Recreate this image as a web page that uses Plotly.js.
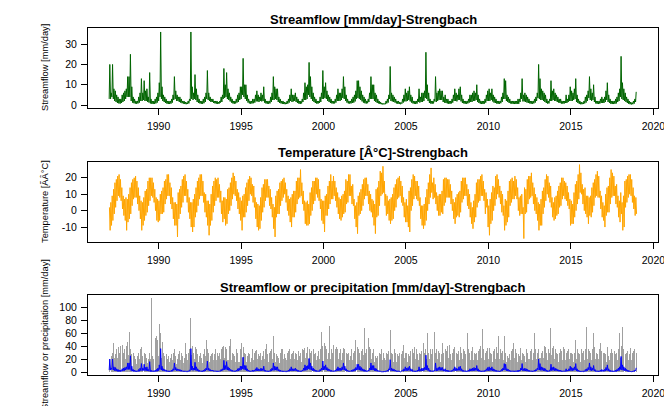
<!DOCTYPE html>
<html><head><meta charset="utf-8">
<script src="https://cdn.plot.ly/plotly-3.0.1.min.js"></script>
<style>html,body{margin:0;padding:0;background:#fff}#chart{width:664px;height:406px}</style>
</head><body><div id="chart"></div>
<script>
// Monthly series, Jan 1987 .. Dec 2018 (one row per year, Jan..Dec)
const startYear = 1987;
const nYears = 32;
const xTicks = [1990, 1995, 2000, 2005, 2010, 2015, 2020];

// Streamflow [mm/day]: monthly peak values
const flowPeak = [
20,6,20,8,7,5,4,3,3,5,6,7,
8,14,14,25,9,4,3,2,2,4,6,13,
6,12,7,8,4,16,3,2,2,3,4,6,
11,36,9,5,4,3,2,2,2,3,5,14,
7,5,4,4,3,2,2,1.5,1.2,2,3,36,
9,6,15,8,5,3,2,2,3,4,6,17,
6,4,3,3,2,2,2,1.5,2,4,5,18,
10,16,8,6,4,3,2,2,3,5,6,9,
9,23,10,10,5,3,2,2,3,3,5,7,
5,4,6,5,9,3,2,2,2,4,6,14,
9,8,8,4,3,2,2,1.5,1.2,2,3,5,
8,5,5,6,4,3,2,2,3,6,11,9,
10,21,14,9,6,4,3,2,2,4,6,17,
9,11,7,5,4,3,2,2,3,5,8,6,
6,8,14,9,5,3,2,2,3,4,5,7,
12,12,9,7,5,4,3,2,3,6,14,10,
10,6,5,3,2,1.5,1,0.8,0.8,2,3,5,
19,6,5,4,3,2,2,1.5,1.2,3,5,8,
6,7,9,5,4,2,2,2,3,8,4,6,
6,7,26,10,6,3,2,2,3,14,6,7,
8,7,7,4,5,3,3,2,2,3,5,8,
6,5,8,9,5,3,2,2,2,3,5,5,
6,7,6,10,5,3,2,2,2,3,5,7,
8,6,8,5,4,3,2,2,2,4,6,13,
12,5,4,3,2,2,2,2,2,3,3,6,
13,5,6,5,4,3,2,2,2,3,4,6,
20,13,8,7,6,5,3,2,3,12,7,8,
6,5,4,3,3,2,2,2,5,3,5,9,
7,6,8,13,5,3,2,1.5,1.2,2,4,5,
7,14,8,6,10,4,2,2,2,3,4,3,
4,7,11,5,3,2,2,2,3,4,6,8,
24,11,8,6,4,3,2,1.5,1.2,2,3,6.5
];

// Streamflow [mm/day]: monthly low-flow values
const flowBase = [
3,3,4,3,2,1.5,1,0.8,0.7,1,1.5,2,
3,4,4,4,2,1.2,0.9,0.7,0.6,0.8,1.2,2,
2,2.5,2,2,1.5,1.2,0.8,0.6,0.5,0.6,0.8,1.2,
2,4,3,2,1.5,1,0.7,0.5,0.5,0.7,1.2,2.5,
3,2,2,1.5,1.2,0.9,0.7,0.5,0.4,0.5,0.8,2,
3,2.5,3,2.5,1.5,1,0.8,0.6,0.6,0.9,1.5,3,
2.5,2,1.5,1.5,1,0.8,0.7,0.5,0.7,1.2,1.5,3,
3.5,4,3,2.5,1.8,1.2,0.8,0.6,0.8,1.2,1.5,2.5,
3,5,4,3,2,1.2,0.8,0.6,0.8,0.9,1.2,1.8,
1.8,1.5,2,1.8,2,1.2,0.8,0.6,0.6,0.8,1.5,2.5,
2.5,3,2.5,1.5,1,0.8,0.6,0.5,0.4,0.5,0.7,1.2,
2,1.5,1.8,2,1.5,1,0.7,0.5,0.8,1.5,2.5,2.5,
3,5,4,3,2,1.5,1,0.7,0.7,1,1.5,3,
3,3.5,3,2,1.5,1,0.8,0.7,0.8,1.2,2,2,
2,2.5,3.5,3,2,1.2,0.8,0.7,0.8,1,1.2,1.8,
3,3.5,3,2.5,1.8,1.2,0.9,0.7,0.9,1.5,3,3,
3,2,1.5,1,0.8,0.5,0.4,0.3,0.3,0.5,0.8,1.2,
3,2,1.8,1.5,1.2,0.8,0.6,0.5,0.4,0.7,1.2,1.8,
1.8,2,2.5,1.8,1.2,0.8,0.6,0.5,0.7,1.5,1.2,1.5,
1.5,2,3.5,3,2,1,0.7,0.6,0.8,1.8,1.5,2,
2.5,2.5,2.5,1.5,1.2,1,0.8,0.6,0.6,0.8,1.2,2,
2,1.8,2.5,2.5,1.8,1,0.8,0.6,0.6,0.8,1.2,1.5,
1.5,2,2,2.5,1.5,1,0.7,0.5,0.5,0.7,1.2,2,
2,2,2.5,1.8,1.2,1,0.7,0.6,0.6,0.9,1.5,3,
3,2,1.5,1,0.8,0.6,0.6,0.5,0.5,0.6,0.6,1.5,
3,1.8,1.8,1.5,1.2,1,0.8,0.6,0.6,0.8,1.2,2,
3.5,3,2.5,2.5,2,1.5,1,0.7,0.8,2,2,2.5,
2,2,1.5,1.2,1,0.7,0.7,0.7,1,1,1.5,2,
2,2,2.5,3,1.5,1,0.6,0.4,0.4,0.5,0.8,1.2,
2,3.5,2.5,2,2.5,1.5,0.8,0.6,0.5,0.7,1,1,
1,1.5,2.5,1.5,1,0.6,0.5,0.5,0.6,0.8,1.5,2,
4,3,2.5,2,1.5,1,0.6,0.4,0.3,0.4,0.7,1.5
];

// Temperature [°C]: monthly upper envelope
const tempHigh = [
2,5,9,13,17,19,21,22,19,14,9,7,
8,7,10,14,17,19,20,21,18,14,9,6,
5,8,12,13,18,20,20,20,17,13,8,7,
6,10,12,14,18,19,22,22,17,14,8,5,
5,4,11,13,15,19,21,22,18,13,8,5,
5,7,10,14,18,20,22,22,18,11,10,6,
6,4,10,15,18,20,19,20,16,12,6,8,
8,7,13,14,17,20,23,21,18,13,11,8,
6,9,10,14,17,19,21,20,16,15,8,5,
4,3,8,14,16,19,19,19,15,13,8,4,
2,9,12,13,17,18,19,20,17,13,9,7,
8,10,12,12,18,20,20,25,17,12,6,5,
6,4,11,14,18,18,20,20,19,13,7,6,
6,9,10,15,18,22,18,21,18,14,11,8,
7,9,10,12,19,18,22,22,15,16,7,3,
5,9,11,13,16,19,20,20,16,12,10,7,
6,4,13,14,18,24,23,27,18,10,9,6,
7,8,10,14,16,19,20,21,18,15,8,5,
7,3,12,14,19,22,21,18,18,15,8,3,
3,4,8,13,17,22,26,17,20,16,11,9,
10,10,12,19,20,20,19,19,16,12,7,5,
8,10,11,12,18,20,20,20,16,13,10,5,
2,6,10,17,19,19,21,22,18,13,11,7,
3,7,11,15,14,21,22,19,15,12,10,3,
7,6,12,18,19,20,18,21,19,14,8,9,
10,2,14,13,19,21,21,23,17,14,10,8,
5,4,7,12,14,19,22,21,17,15,8,5,
8,9,12,15,17,20,20,18,17,15,11,7,
6,4,11,16,18,22,28,23,16,13,14,9,
9,8,9,14,17,19,22,24,21,12,9,5,
3,10,14,15,20,25,23,21,15,16,9,6,
11,5,9,18,19,21,22,22,19,14,9,8
];

// Temperature [°C]: monthly lower envelope
const tempLow = [
-12,-9,-6,-2,2,6,9,8,6,1,-3,-6,
-12,-7,-5,-2,3,7,8,8,4,0,-5,-12,
-9,-6,-3,-1,3,6,9,8,5,0,-6,-7,
-6,-2,-2,-1,4,7,9,9,4,1,-5,-9,
-9,-16,-5,-2,2,5,9,9,5,-1,-5,-10,
-13,-10,-4,-1,3,7,9,9,5,-1,-4,-9,
-15,-9,-6,-1,3,6,8,8,5,-2,-7,-5,
-9,-8,-2,0,3,7,10,9,6,1,-2,-6,
-12,-4,-4,-1,3,6,10,9,5,2,-5,-10,
-12,-11,-6,-1,2,6,8,8,3,1,-4,-11,
-16,-4,-2,-2,3,6,8,10,5,0,-3,-7,
-10,-4,-4,-1,4,7,8,9,4,0,-8,-9,
-9,-8,-3,0,4,6,10,8,6,1,-6,-8,
-13,-3,-3,1,4,7,7,9,6,2,-2,-5,
-6,-4,-2,-1,4,5,9,9,4,3,-5,-10,
-14,-3,-2,0,3,7,9,9,4,0,-1,-4,
-9,-14,-4,-3,3,9,10,11,3,-3,-2,-6,
-8,-6,-5,0,2,7,8,9,5,3,-4,-7,
-7,-10,-13,0,3,7,9,7,6,3,-5,-9,
-11,-9,-6,0,4,8,11,7,8,4,0,-3,
-3,-1,-2,3,5,8,8,8,4,0,-5,-8,
-4,-3,-4,-1,5,7,9,9,3,1,-4,-8,
-11,-7,-4,2,5,6,9,9,6,-2,2,-10,
-15,-8,-6,0,3,7,10,8,4,-1,-3,-12,
-9,-7,-4,3,5,7,7,9,7,0,-3,-2,
-2,-17,-2,-1,4,7,8,9,4,0,-2,-6,
-12,-9,-9,-2,2,6,10,8,5,2,-4,-6,
-5,-3,-2,2,3,7,9,7,6,3,1,-9,
-8,-8,-4,0,4,7,11,10,4,0,-2,-4,
-8,-3,-4,-1,3,8,9,8,8,1,-4,-6,
-10,-3,-1,-1,4,8,9,9,4,2,-4,-7,
-2,-12,-10,2,5,8,10,9,5,1,-3,-2
];

// Precipitation [mm/day]: monthly maximum
const precipMax = [
20,25,30,44,28,35,38,30,40,42,30,35,
40,46,62,35,28,30,25,20,25,30,35,39,
25,30,28,22,20,30,114,25,20,52,55,50,
74,60,46,30,25,28,20,25,22,28,30,35,
25,20,28,33,30,25,22,44,28,30,35,83,
40,30,38,35,28,25,30,22,28,35,49,35,
30,25,28,30,28,35,30,25,30,35,38,40,
38,35,30,40,51,30,28,25,35,30,28,35,
45,38,30,28,25,30,28,22,35,30,32,34,
28,25,30,25,32,35,43,28,30,32,35,56,
30,28,25,22,30,35,35,28,22,30,32,35,
28,30,33,30,28,32,25,30,35,34,37,30,
39,35,30,32,35,28,30,25,32,35,61,40,
45,40,35,30,71,35,30,42,35,38,35,30,
35,30,37,35,30,28,30,25,35,30,32,50,
38,35,30,32,35,68,30,35,52,38,35,30,
35,25,22,25,30,28,35,30,22,30,28,32,
64,30,28,35,30,28,25,30,28,32,42,30,
30,28,25,32,35,30,39,35,28,30,28,32,
44,30,35,60,30,35,28,35,61,30,35,32,
30,28,44,30,35,32,40,42,28,30,35,38,
30,28,32,39,30,35,32,28,60,35,30,32,
39,30,28,30,32,35,40,67,35,30,32,37,
37,30,28,32,35,38,30,56,35,30,32,55,
30,25,22,28,32,35,44,35,30,28,25,37,
30,28,25,35,30,38,32,35,30,60,35,30,
35,49,30,32,40,38,30,35,30,68,37,40,
35,30,28,30,35,32,39,35,30,32,35,30,
30,28,30,50,35,30,28,35,30,32,35,70,
35,32,30,35,60,38,30,28,35,44,32,30,
30,28,39,25,30,35,30,32,28,30,35,60,
40,70,35,28,30,32,28,37,30,32,35,30
];

// Precipitation [mm/day]: typical (dense) monthly level
const precipTyp = [
15,18,20,22,18,20,22,16,20,24,18,20,
22,24,26,18,16,18,15,12,16,18,20,22,
16,18,15,14,12,18,20,15,12,24,26,24,
28,26,22,16,14,16,12,15,14,18,18,20,
15,12,16,18,16,15,14,20,16,18,20,26,
22,18,20,18,16,15,18,14,16,20,24,20,
18,15,16,18,16,20,18,15,18,20,22,22,
22,20,18,22,24,18,16,15,20,18,16,20,
24,22,18,16,15,18,16,14,20,18,18,20,
16,15,18,15,18,20,22,16,18,18,20,24,
18,16,15,14,18,20,20,16,14,18,18,20,
16,18,20,18,16,18,15,16,20,20,22,18,
22,20,18,18,20,16,18,15,18,20,26,22,
24,22,20,18,26,20,18,22,20,22,20,18,
20,18,22,20,18,16,18,15,20,18,18,24,
22,20,18,18,20,26,18,20,24,22,20,18,
20,15,14,15,18,16,18,16,14,18,16,18,
26,18,16,20,18,16,15,18,16,18,22,18,
18,16,15,18,20,18,20,20,16,18,16,18,
22,18,20,24,18,20,16,20,24,18,20,18,
18,16,22,16,20,18,22,22,16,18,20,20,
18,16,18,20,18,20,18,16,24,20,18,18,
20,18,16,18,18,20,22,26,20,18,18,20,
20,18,16,18,20,20,18,24,20,18,18,24,
18,15,14,16,18,20,22,20,18,16,15,20,
18,16,15,20,18,20,18,20,18,24,20,18,
20,22,18,18,22,20,18,20,18,26,20,22,
20,18,16,18,20,18,22,20,18,18,20,18,
18,16,18,22,20,18,16,20,18,18,20,26,
20,18,18,20,24,20,18,16,20,22,18,18,
18,16,20,15,18,20,18,18,16,18,20,24,
22,26,20,16,18,18,16,20,18,18,20,18
];

const titles = ["Streamflow [mm/day]-Strengbach", "Temperature [Â°C]-Strengbach", "Streamflow or precipitation [mm/day]-Strengbach"];
const yLabels = ["Streamflow [mm/day]", "Temperature [ÃÂ°C]", "Streamflow or precipitation [mm/day]"];

// ---------- build traces ----------
const nMonths = nYears * 12;
function mx(i, f) { return startYear + (i + f) / 12; }

const flowX = [], flowY = [];
for (let i = 0; i < nMonths; i++) {
  flowX.push(mx(i, 0.05)); flowY.push(flowBase[i]);
  flowX.push(mx(i, 0.5));  flowY.push(flowPeak[i]);
}
const tX = [], tY = [];
for (let i = 0; i < nMonths; i++) {
  tX.push(mx(i, 0.25)); tY.push(tempHigh[i]);
  tX.push(mx(i, 0.75)); tY.push(tempLow[i]);
}
const pX = [];
for (let i = 0; i < nMonths; i++) pX.push(mx(i, 0.5));

const FONT = "Liberation Sans, Arial, Helvetica, sans-serif";

const data = [
  {type:'scatter', mode:'lines', x:flowX, y:flowY, xaxis:'x', yaxis:'y',
   line:{color:'#006400', width:1}, hoverinfo:'skip'},
  {type:'scatter', mode:'lines', x:tX, y:tY, xaxis:'x2', yaxis:'y2',
   line:{color:'#FFA500', width:1}, hoverinfo:'skip'},
  {type:'bar', x:pX, y:precipTyp, xaxis:'x3', yaxis:'y3', width:1/12*0.95,
   marker:{color:'#a9a9a9', line:{width:0}}, hoverinfo:'skip'},
  {type:'bar', x:pX, y:precipMax, xaxis:'x3', yaxis:'y3', width:0.06,
   marker:{color:'#a0a0a0', line:{width:0}}, hoverinfo:'skip'},
  {type:'scatter', mode:'lines', x:flowX, y:flowY, xaxis:'x3', yaxis:'y3',
   line:{color:'#0000FF', width:1}, hoverinfo:'skip'}
];

const W = 664, H = 406;
const xDom = [88/W, 658/W];
function yDom(top, bot) { return [(H-bot)/H, (H-top)/H]; }

function xAx(anchor) {
  return {domain:xDom, anchor:anchor, range:[1985.72, 2020.28], tickvals:xTicks, ticktext:xTicks.map(String),
    ticks:'outside', ticklen:6, tickcolor:'#000', tickwidth:1, showline:true, mirror:true,
    linecolor:'#000', linewidth:1, showgrid:false, zeroline:false, ticklabelstandoff:2,
    ticklabeloverflow:'allow', automargin:false,
    tickfont:{family:FONT, size:10.5, color:'#000'}};
}
function yAx(anchor, dom, range, tv) {
  return {domain:dom, anchor:anchor, range:range, tickvals:tv, ticktext:tv.map(String),
    ticks:'outside', ticklen:6, tickcolor:'#000', tickwidth:1, showline:true, mirror:true,
    linecolor:'#000', linewidth:1, showgrid:false, zeroline:false, ticklabelstandoff:2,
    ticklabeloverflow:'allow', automargin:false,
    tickfont:{family:FONT, size:10.5, color:'#000'}};
}

const panels = [[28,108],[162,242],[295,375]];
const titleY = [19, 152, 287];
const annotations = [];
for (let k = 0; k < 3; k++) {
  annotations.push({text:titles[k], xref:'paper', yref:'paper', x:(88+658)/2/W, y:1-titleY[k]/H,
    xanchor:'center', yanchor:'middle', showarrow:false,
    font:{family:FONT, size:13, weight:'bold', color:'#000'}});
  annotations.push({text:yLabels[k], xref:'paper', yref:'paper', x:45/W, y:1-((panels[k][0]+panels[k][1])/2)/H,
    xanchor:'center', yanchor:'middle', textangle:-90, showarrow:false,
    font:{family:FONT, size:9.3, color:'#000'}});
}

const layout = {
  width:W, height:H, margin:{l:0,r:0,t:0,b:0}, paper_bgcolor:'#fff', plot_bgcolor:'#fff',
  showlegend:false, barmode:'overlay', bargap:0,
  xaxis:xAx('y'), xaxis2:xAx('y2'), xaxis3:xAx('y3'),
  yaxis:yAx('x', yDom(28,108), [-1.46, 37.96], [0,10,20,30]),
  yaxis2:yAx('x2', yDom(162,242), [-19.1, 29.6], [-10,0,10,20]),
  yaxis3:yAx('x3', yDom(295,375), [-4.56, 118.6], [0,20,40,60,80,100]),
  annotations:annotations
};

Plotly.newPlot('chart', data, layout, {displayModeBar:false, staticPlot:true});
</script>
</body></html>
